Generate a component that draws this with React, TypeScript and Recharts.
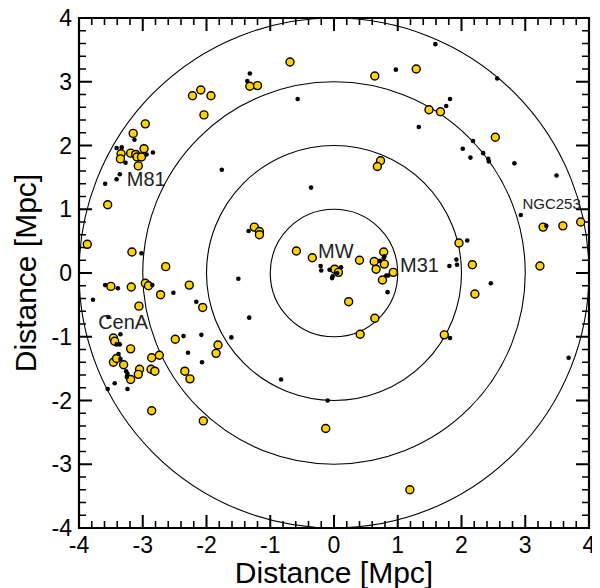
import React from 'react';
import { ScatterChart, Scatter, XAxis, YAxis, ReferenceDot } from 'recharts';

// Galaxies: yellow-filled circles
const yellowPoints: [number, number][] = [
  [-3.87, 0.45], [-3.55, 1.07], [-3.17, 0.33], [-2.64, 0.10],
  [-3.15, 2.19], [-2.96, 2.34], [-3.34, 1.87], [-3.35, 1.79], [-3.19, 1.88],
  [-3.11, 1.86], [-3.09, 1.82], [-3.02, 1.82], [-2.98, 1.95], [-3.07, 1.68],
  [-2.22, 2.78], [-2.09, 2.87], [-2.04, 2.48], [-1.93, 2.78],
  [-1.32, 2.93], [-1.20, 2.94], [-0.69, 3.31],
  [-1.25, 0.72], [-1.17, 0.65], [-1.17, 0.60], [-0.59, 0.345], [-0.34, 0.24],
  [0.64, 3.09], [1.29, 3.20], [1.49, 2.56], [1.67, 2.53], [0.73, 1.76], [0.68, 1.67],
  [1.96, 0.47], [0.40, 0.20], [0.63, 0.18], [0.78, 0.33], [0.79, 0.14], [0.66, 0.06], [0.93, 0.01],
  [2.53, 2.13], [3.28, 0.72], [3.59, 0.74], [3.87, 0.80], [2.17, 0.13], [3.23, 0.11],
  [-3.50, -0.21], [-3.18, -0.22], [-2.96, -0.16], [-2.91, -0.20], [-2.72, -0.34], [-2.27, -0.19],
  [-3.06, -0.52], [-2.06, -0.54], [-3.46, -1.02], [-3.44, -1.07], [-3.19, -1.19], [-2.49, -1.04],
  [-2.74, -1.29], [-2.86, -1.33], [-3.46, -1.40], [-3.41, -1.34], [-3.30, -1.44], [-3.05, -1.51],
  [-3.07, -1.59], [-3.19, -1.67], [-2.87, -1.51], [-2.81, -1.54], [-2.34, -1.54], [-2.26, -1.66],
  [-2.86, -2.16], [-2.05, -2.32], [-1.82, -1.13], [-1.85, -1.26], [-0.13, -2.44],
  [0.01, 0.06], [0.07, 0.01], [0.23, -0.45], [0.64, -0.71], [0.41, -0.96], [0.76, -0.11],
  [1.73, -0.97], [1.19, -3.40], [2.21, -0.33],
];

// Galaxies: small black dots
const blackPoints: [number, number][] = [
  [-3.41, 1.96], [-3.33, 1.97], [-3.13, 2.09], [-3.27, 1.73], [-2.94, 1.86], [-2.84, 1.89],
  [-3.36, 1.55], [-3.41, 1.47], [-3.59, 1.40], [-3.02, 0.31],
  [-1.32, 3.13], [-1.36, 3.01], [-0.57, 2.73], [-1.76, 1.62], [-0.36, 1.34], [-1.34, 0.66],
  [1.59, 3.59], [0.97, 3.19], [1.82, 2.73], [1.76, 2.62], [1.33, 2.29], [2.02, 1.95],
  [2.09, 0.51], [0.79, 0.26], [1.92, 0.21], [1.93, 0.13], [1.81, 0.11], [0.72, 0.19],
  [2.56, 3.05], [2.18, 2.07], [2.14, 1.81], [2.34, 1.88], [2.42, 1.79], [2.43, 1.75],
  [2.83, 1.72], [3.49, 1.53], [2.93, 0.91], [3.33, 0.74],
  [-3.59, -0.19], [-3.39, -0.24], [-2.85, -0.19], [-3.78, -0.42], [-2.52, -0.31], [-2.16, -0.45],
  [-3.35, -0.96], [-3.41, -1.12], [-3.36, -1.12], [-3.38, -1.27], [-3.35, -1.35], [-3.26, -1.54],
  [-3.24, -1.58], [-3.25, -1.63], [-3.44, -1.73], [-3.55, -1.82], [-3.24, -1.82],
  [-2.36, -0.99], [-2.08, -0.97], [-2.29, -1.25], [-2.07, -1.40],
  [-1.50, -0.09], [-1.33, -0.70], [-1.61, -1.01], [-0.83, -1.67], [-0.10, -2.00],
  [0.84, -0.30], [0.82, -0.04], [1.82, -1.02], [2.46, -0.16], [3.68, -1.33],
  [-0.21, 0.11], [-0.20, 0.04], [-0.07, 0.05], [-0.02, -0.05], [-0.03, -0.08], [0.11, 0.09],
  [0.05, 0.0], [0.78, 0.24], [0.85, -0.04], [-3.54, -0.69],
];

const ringRadii = [1, 2, 3, 4];
const majorTicks = [-4, -3, -2, -1, 0, 1, 2, 3, 4];
const innerMajorTicks = [-3, -2, -1, 0, 1, 2, 3];
const minorTicks = [
  -3.8, -3.6, -3.4, -3.2, -2.8, -2.6, -2.4, -2.2, -1.8, -1.6, -1.4, -1.2,
  -0.8, -0.6, -0.4, -0.2, 0.2, 0.4, 0.6, 0.8, 1.2, 1.4, 1.6, 1.8,
  2.2, 2.4, 2.6, 2.8, 3.2, 3.4, 3.6, 3.8,
];

const labelNames = ['MW', 'M31', 'M81', 'CenA', 'NGC253'];
const labelX = [-0.25, 1.035, -3.25, -3.70, 2.955];
const labelY = [0.235, 0.016, 1.365, -0.88, 1.004];
const labelSizes = [20, 20, 20, 20, 15];

const axisTitle = 'Distance [Mpc]';

const CHART_W = 600;
const CHART_H = 588;
const MARGIN = { top: 18, right: 11, left: 0, bottom: 0 };
const Y_AXIS_W = 79;
const X_AXIS_H = 60;
const DOMAIN: [number, number] = [-4, 4];
const CENTER = 0;
const PLOT_W = CHART_W - MARGIN.left - MARGIN.right - Y_AXIS_W;
const PLOT_H = CHART_H - MARGIN.top - MARGIN.bottom - X_AXIS_H;
const PX_PER_UNIT = PLOT_W / (DOMAIN[1] - DOMAIN[0]);
const MAJOR_LEN = 13;
const MINOR_LEN = 7;

const FONT = '"Liberation Sans", Arial, Helvetica, sans-serif';
const YELLOW = '#FFD200';

const yellowData = yellowPoints.map(([x, y]) => ({ x, y }));
const blackData = blackPoints.map(([x, y]) => ({ x, y }));

const YellowShape = (p: any) => (
  <circle cx={p.cx} cy={p.cy} r={4} fill={YELLOW} stroke="#000" strokeWidth={1.4} />
);
const BlackShape = (p: any) => <circle cx={p.cx} cy={p.cy} r={2.3} fill="#000" stroke="none" />;

// Frame: anchored at the plot centre (the domain is symmetric about 0)
const FrameShape = (p: any) => {
  const x = Number(p.cx) - PLOT_W / 2;
  const y = Number(p.cy) - PLOT_H / 2;
  return (
    <path d={`M${x},${y}H${x + PLOT_W}V${y + PLOT_H}H${x}Z`} fill="none" stroke="#000" strokeWidth={2.2} />
  );
};

// Bottom & top inward ticks, anchored at (value, 0)
const makeXTick = (len: number, w: number) => (p: any) => {
  const x = Number(p.cx);
  const bottom = Number(p.cy) + PLOT_H / 2;
  const top = Number(p.cy) - PLOT_H / 2;
  return <path d={`M${x},${bottom}v${-len}M${x},${top}v${len}`} stroke="#000" strokeWidth={w} fill="none" />;
};
// Left & right inward ticks, anchored at (0, value)
const makeYTick = (len: number, w: number) => (p: any) => {
  const y = Number(p.cy);
  const left = Number(p.cx) - PLOT_W / 2;
  const right = Number(p.cx) + PLOT_W / 2;
  return <path d={`M${left},${y}h${len}M${right},${y}h${-len}`} stroke="#000" strokeWidth={w} fill="none" />;
};
const xMajorShape = makeXTick(MAJOR_LEN, 2);
const xMinorShape = makeXTick(MINOR_LEN, 1.6);
const yMajorShape = makeYTick(MAJOR_LEN, 2);
const yMinorShape = makeYTick(MINOR_LEN, 1.6);

const XTitle = (props: any) => {
  const vb = props.viewBox || {};
  return (
    <text x={vb.x + vb.width / 2} y={vb.y + 55} textAnchor="middle" fontSize={30} fontFamily={FONT} fill="#000">
      {axisTitle}
    </text>
  );
};
const YTitle = (props: any) => {
  const vb = props.viewBox || {};
  const cx = vb.x + 36;
  const cy = vb.y + vb.height / 2;
  return (
    <text x={cx} y={cy} transform={`rotate(-90, ${cx}, ${cy})`} textAnchor="middle" fontSize={30} fontFamily={FONT} fill="#000">
      {axisTitle}
    </text>
  );
};

const tickStyle = { fill: '#000', fontSize: 23, fontFamily: FONT };

export default function App() {
  return (
    <div style={{ margin: '-8px 0 0 -8px', width: CHART_W, height: CHART_H }}>
      <ScatterChart width={CHART_W} height={CHART_H} margin={MARGIN}>
        <XAxis type="number" dataKey="x" domain={DOMAIN} allowDataOverflow ticks={majorTicks} interval={0}
          height={X_AXIS_H} tickLine={false} axisLine={false} tickSize={0} tickMargin={9}
          tick={tickStyle} label={XTitle} />
        <YAxis type="number" dataKey="y" domain={DOMAIN} allowDataOverflow ticks={majorTicks} interval={0}
          width={Y_AXIS_W} tickLine={false} axisLine={false} tickSize={0} tickMargin={7}
          tick={tickStyle} label={YTitle} />

        {ringRadii.map((R) => (
          <ReferenceDot key={`ring${R}`} x={CENTER} y={CENTER} r={R * PX_PER_UNIT} fill="none" stroke="#000" strokeWidth={1.1} ifOverflow="visible" />
        ))}

        {innerMajorTicks.map((v) => (
          <ReferenceDot key={`xM${v}`} x={v} y={CENTER} r={1} ifOverflow="visible" shape={xMajorShape} />
        ))}
        {minorTicks.map((v) => (
          <ReferenceDot key={`xm${v}`} x={v} y={CENTER} r={1} ifOverflow="visible" shape={xMinorShape} />
        ))}
        {innerMajorTicks.map((v) => (
          <ReferenceDot key={`yM${v}`} x={CENTER} y={v} r={1} ifOverflow="visible" shape={yMajorShape} />
        ))}
        {minorTicks.map((v) => (
          <ReferenceDot key={`ym${v}`} x={CENTER} y={v} r={1} ifOverflow="visible" shape={yMinorShape} />
        ))}

        <ReferenceDot x={CENTER} y={CENTER} r={1} ifOverflow="visible" shape={FrameShape} />

        <Scatter data={yellowData} isAnimationActive={false} shape={YellowShape} />
        <Scatter data={blackData} isAnimationActive={false} shape={BlackShape} />

        {labelNames.map((name, i) => (
          <ReferenceDot key={name} x={labelX[i]} y={labelY[i]} r={0} ifOverflow="visible"
            shape={(p: any) => (
              <text x={p.cx} y={p.cy} fontSize={labelSizes[i]} fontFamily={FONT} fill="#222">{name}</text>
            )} />
        ))}
      </ScatterChart>
    </div>
  );
}
